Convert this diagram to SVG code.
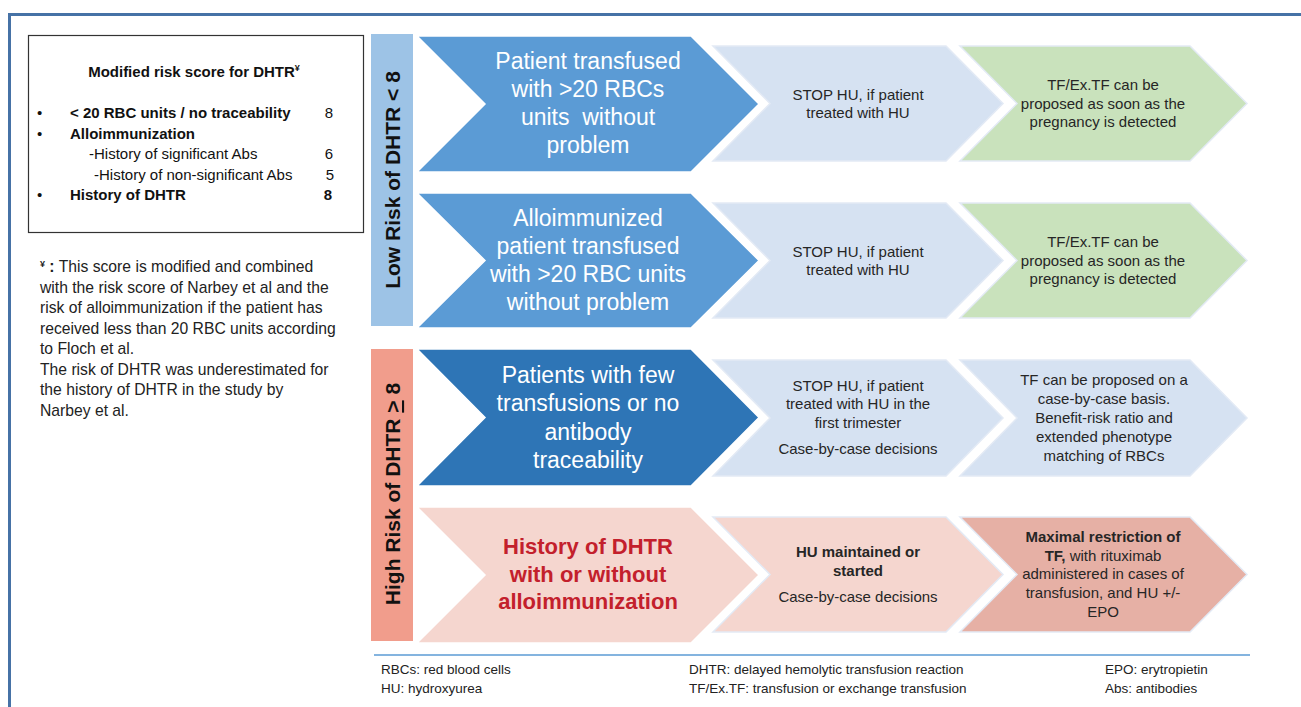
<svg xmlns="http://www.w3.org/2000/svg" width="1301" height="707" viewBox="0 0 1301 707">
<style>
text{font-family:"Liberation Sans",Arial,sans-serif}
.frame{fill:none;stroke:#4672a6;stroke-width:3}
.box{fill:#fff;stroke:#333;stroke-width:1.2}
.sc{font-size:15px;fill:#111}
.b{font-weight:bold}
.fn{font-size:15.7px;fill:#222}
.vl{font-size:21px;font-weight:bold;fill:#111;text-anchor:middle}
.c1{font-size:23px;fill:#fff;text-anchor:middle}
.c1r{font-size:22px;font-weight:bold;fill:#c3202c;text-anchor:middle}
.c2{font-size:15px;fill:#262626;text-anchor:middle}
.ft{font-size:13.5px;fill:#222}
.chev{stroke:#fff;stroke-width:1.5}
.chev2{stroke:#e3eaf5;stroke-width:1.5}
</style>
<rect width="1301" height="707" fill="#fff"/>
<path class="frame" d="M9.5 707 V14.5 H1301"/>

<g id="score-box">
<rect class="box" x="28.5" y="35.5" width="335" height="197"/>
<text class="sc b" x="194" y="77" text-anchor="middle">Modified risk score for DHTR<tspan font-size="9" dy="-6">¥</tspan></text>
<text class="sc" x="37" y="118">•</text>
<text class="sc b" x="70" y="118">&lt; 20 RBC units / no traceability</text>
<text class="sc" x="329" y="118" text-anchor="middle">8</text>
<text class="sc" x="37" y="139">•</text>
<text class="sc b" x="70" y="139">Alloimmunization</text>
<text class="sc" x="89" y="159">-History of significant Abs</text>
<text class="sc" x="329" y="159" text-anchor="middle">6</text>
<text class="sc" x="94" y="180">-History of non-significant Abs</text>
<text class="sc" x="330" y="180" text-anchor="middle">5</text>
<text class="sc" x="37" y="200">•</text>
<text class="sc b" x="70" y="200">History of DHTR</text>
<text class="sc b" x="328" y="200" text-anchor="middle">8</text>
</g>

<g id="footnote">
<text class="fn" x="40" y="272"><tspan font-size="9" font-weight="bold" dy="-5">¥</tspan><tspan font-weight="bold" dy="5"> :</tspan> This score is modified and combined</text>
<text class="fn" x="40" y="293">with the risk score of Narbey et al and the</text>
<text class="fn" x="40" y="313">risk of alloimmunization if the patient has</text>
<text class="fn" x="40" y="334">received less than 20 RBC units according</text>
<text class="fn" x="40" y="354">to Floch et al.</text>
<text class="fn" x="40" y="375">The risk of DHTR was underestimated for</text>
<text class="fn" x="40" y="395">the history of DHTR in the study by</text>
<text class="fn" x="40" y="416">Narbey et al.</text>
</g>

<g id="low-risk-label">
<rect x="371" y="34" width="42" height="292" fill="#9dc3e6"/>
<text class="vl" transform="translate(400,180) rotate(-90)">Low Risk of DHTR &lt; 8</text>
</g>

<g id="high-risk-label">
<rect x="371" y="349" width="42" height="292" fill="#f19d8c"/>
<text class="vl" transform="translate(400,494) rotate(-90)">High Risk of DHTR <tspan text-decoration="underline">&gt;</tspan> 8</text>
</g>

<g id="row1-patient">
<polygon class="chev" points="417,36 691,36 759,104 691,172 417,172 485,104" fill="#5b9bd5"/>
<text class="c1" x="588" y="69">Patient transfused</text>
<text class="c1" x="588" y="97">with &gt;20 RBCs</text>
<text class="c1" x="588" y="125">units&#160; without</text>
<text class="c1" x="588" y="153">problem</text>
</g>
<g id="row1-hu">
<polygon class="chev2" points="713,46 946,46 1003,103.5 946,161 713,161 770,103.5" fill="#d6e2f2"/>
<text class="c2" x="858" y="100">STOP HU, if patient</text>
<text class="c2" x="858" y="118">treated with HU</text>
</g>
<g id="row1-tf">
<polygon class="chev2" points="960,46 1190,46 1247,103.5 1190,161 960,161 1017,103.5" fill="#c9e2bc"/>
<text class="c2" x="1103" y="90">TF/Ex.TF can be</text>
<text class="c2" x="1103" y="109">proposed as soon as the</text>
<text class="c2" x="1103" y="127">pregnancy is detected</text>
</g>

<g id="row2-patient">
<polygon class="chev" points="417,193 691,193 759,260.5 691,328 417,328 485,260.5" fill="#5b9bd5"/>
<text class="c1" x="588" y="226">Alloimmunized</text>
<text class="c1" x="588" y="254">patient transfused</text>
<text class="c1" x="588" y="282">with &gt;20 RBC units</text>
<text class="c1" x="588" y="310">without problem</text>
</g>
<g id="row2-hu">
<polygon class="chev2" points="713,203 946,203 1003,260.5 946,318 713,318 770,260.5" fill="#d6e2f2"/>
<text class="c2" x="858" y="257">STOP HU, if patient</text>
<text class="c2" x="858" y="275">treated with HU</text>
</g>
<g id="row2-tf">
<polygon class="chev2" points="960,203 1190,203 1247,260.5 1190,318 960,318 1017,260.5" fill="#c9e2bc"/>
<text class="c2" x="1103" y="247">TF/Ex.TF can be</text>
<text class="c2" x="1103" y="266">proposed as soon as the</text>
<text class="c2" x="1103" y="284">pregnancy is detected</text>
</g>

<g id="row3-patient">
<polygon class="chev" points="417,349 691,349 759,417.5 691,486 417,486 485,417.5" fill="#2e75b6"/>
<text class="c1" x="588" y="383">Patients with few</text>
<text class="c1" x="588" y="411">transfusions or no</text>
<text class="c1" x="588" y="440">antibody</text>
<text class="c1" x="588" y="468">traceability</text>
</g>
<g id="row3-hu">
<polygon class="chev2" points="713,360 946,360 1003,418 946,476 713,476 770,418" fill="#d6e2f2"/>
<text class="c2" x="858" y="391">STOP HU, if patient</text>
<text class="c2" x="858" y="409">treated with HU in the</text>
<text class="c2" x="858" y="428">first trimester</text>
<text class="c2" x="858" y="454">Case-by-case decisions</text>
</g>
<g id="row3-tf">
<polygon class="chev2" points="960,360 1190,360 1247,418 1190,476 960,476 1017,418" fill="#d6e2f2"/>
<text class="c2" x="1104" y="385">TF can be proposed on a</text>
<text class="c2" x="1104" y="404">case-by-case basis.</text>
<text class="c2" x="1104" y="423">Benefit-risk ratio and</text>
<text class="c2" x="1104" y="442">extended phenotype</text>
<text class="c2" x="1104" y="461">matching of RBCs</text>
</g>

<g id="row4-history">
<polygon class="chev" points="417,507 691,507 759,575 691,643 417,643 485,575" fill="#f5d6cf"/>
<text class="c1r" x="588" y="554">History of DHTR</text>
<text class="c1r" x="588" y="582">with or without</text>
<text class="c1r" x="588" y="609">alloimmunization</text>
</g>
<g id="row4-hu">
<polygon class="chev2" points="713,517 946,517 1003,574.5 946,632 713,632 770,574.5" fill="#f5d6cf"/>
<text class="c2 b" x="858" y="557">HU maintained or</text>
<text class="c2 b" x="858" y="576">started</text>
<text class="c2" x="858" y="602">Case-by-case decisions</text>
</g>
<g id="row4-tf">
<polygon class="chev2" points="960,517 1190,517 1247,574.5 1190,632 960,632 1017,574.5" fill="#e6b0a5"/>
<text class="c2 b" x="1103" y="542">Maximal restriction of</text>
<text class="c2" x="1103" y="561"><tspan font-weight="bold">TF,</tspan> with rituximab</text>
<text class="c2" x="1103" y="579">administered in cases of</text>
<text class="c2" x="1103" y="598">transfusion, and HU +/-</text>
<text class="c2" x="1103" y="617">EPO</text>
</g>

<g id="legend">
<line x1="374" y1="655" x2="1250" y2="655" stroke="#5b9bd5" stroke-width="1.5"/>
<text class="ft" x="381" y="674">RBCs: red blood cells</text>
<text class="ft" x="381" y="693">HU: hydroxyurea</text>
<text class="ft" x="689" y="674">DHTR: delayed hemolytic transfusion reaction</text>
<text class="ft" x="689" y="693">TF/Ex.TF: transfusion or exchange transfusion</text>
<text class="ft" x="1105" y="674">EPO: erytropietin</text>
<text class="ft" x="1105" y="693">Abs: antibodies</text>
</g>
</svg>
